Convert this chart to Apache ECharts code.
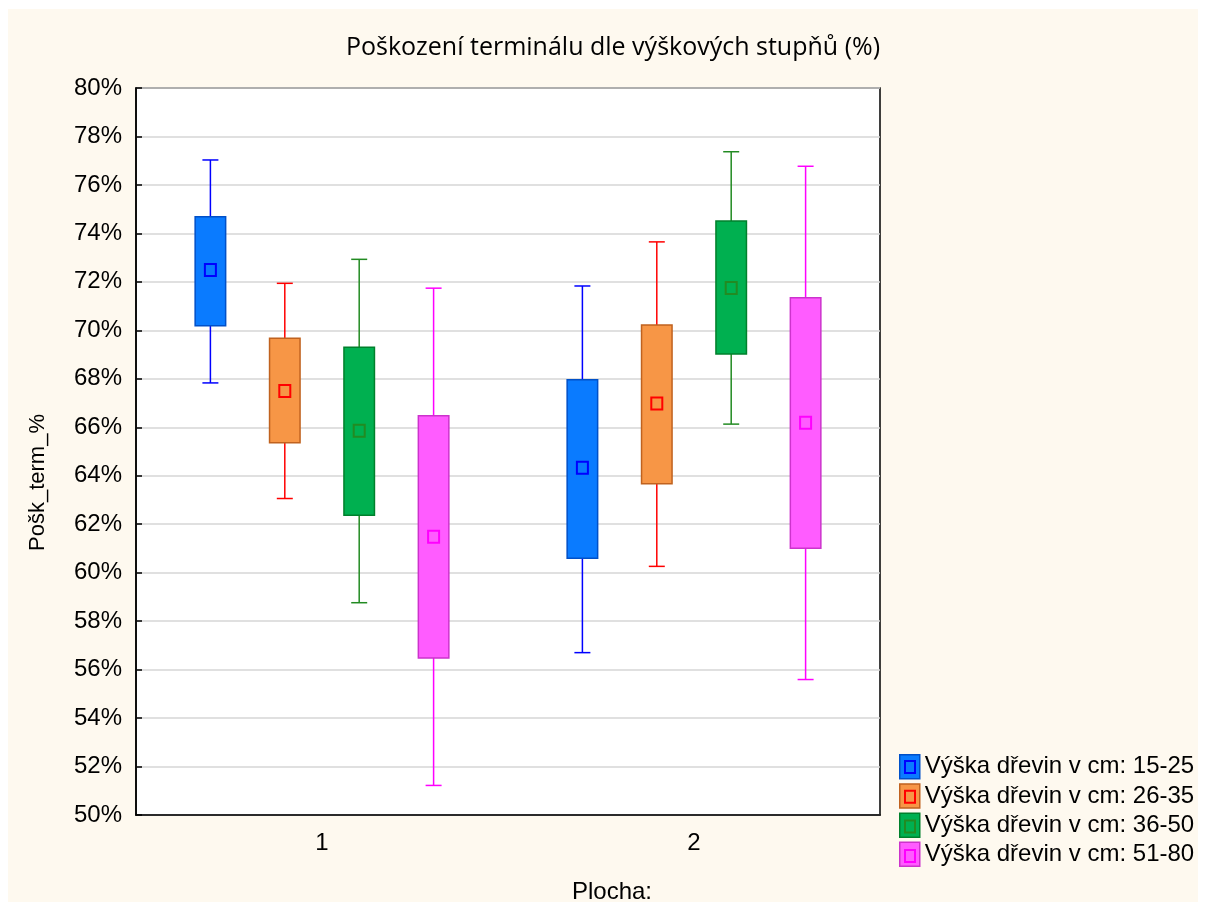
<!DOCTYPE html>
<html>
<head>
<meta charset="utf-8">
<title>Poškození terminálu dle výškových stupňů</title>
<script src="https://cdn.jsdelivr.net/npm/echarts@6/dist/echarts.min.js"></script>
<style>
  html, body { margin: 0; padding: 0; background: #ffffff; }
  #chart { position: absolute; left: 8px; top: 9px; width: 1190px; height: 893px; }
</style>
</head>
<body>
<div id="chart"></div>
<script>
// Plots (x axis categories)
const categories = ['1', '2'];

// Height classes (series names)
const seriesNames = [
  'Výška dřevin v cm: 15-25',
  'Výška dřevin v cm: 26-35',
  'Výška dřevin v cm: 36-50',
  'Výška dřevin v cm: 51-80'
];

// Per plot: [whisker low, box low, mean, box high, whisker high] in %
const h15_25 = [[67.83, 70.19, 72.49, 74.69, 77.03], [56.70, 60.59, 64.33, 67.96, 71.83]];
const h26_35 = [[63.06, 65.36, 67.50, 69.67, 71.94], [60.26, 63.67, 66.98, 70.22, 73.65]];
const h36_50 = [[58.76, 62.37, 65.86, 69.30, 72.93], [66.13, 69.02, 71.75, 74.51, 77.37]];
const h51_80 = [[51.22, 56.48, 61.48, 66.48, 71.74], [55.59, 61.01, 66.19, 71.34, 76.77]];
const seriesValues = [h15_25, h26_35, h36_50, h51_80];

// Y axis ticks (%)
const yTicks = { min: 50, max: 80, step: 2 };

// Colours: box fill, box outline, whisker / mean marker
const fillColors = ['#0A7BFF', '#F79646', '#00B050', '#FF5CFF'];
const edgeColors = ['#0050C8', '#C0621F', '#00802C', '#CC33CC'];
const lineColors = ['#0000FF', '#FF0000', '#228B22', '#FF00FF'];

const FONT = "'Liberation Sans', Arial, sans-serif";

function boxRenderer(slot) {
  return function (params, api) {
    const cat = api.value(0);
    const band = api.size([1, 0])[0];
    const x = api.coord([cat, api.value(3)])[0] + (slot - 1.5) * 0.2 * band;
    const yLow = api.coord([cat, api.value(1)])[1];
    const yQ1 = api.coord([cat, api.value(2)])[1];
    const yMean = api.coord([cat, api.value(3)])[1];
    const yQ3 = api.coord([cat, api.value(4)])[1];
    const yHigh = api.coord([cat, api.value(5)])[1];
    const bw = band * 0.082;
    const cw = band * 0.043;
    const lc = lineColors[slot];
    return {
      type: 'group',
      children: [
        { type: 'line', shape: { x1: x, y1: yHigh, x2: x, y2: yLow }, style: { stroke: lc, lineWidth: 1.5 } },
        { type: 'line', shape: { x1: x - cw / 2, y1: yHigh, x2: x + cw / 2, y2: yHigh }, style: { stroke: lc, lineWidth: 1.5 } },
        { type: 'line', shape: { x1: x - cw / 2, y1: yLow, x2: x + cw / 2, y2: yLow }, style: { stroke: lc, lineWidth: 1.5 } },
        { type: 'rect', shape: { x: x - bw / 2, y: yQ3, width: bw, height: yQ1 - yQ3 },
          style: { fill: fillColors[slot], stroke: edgeColors[slot], lineWidth: 1.5 } },
        { type: 'rect', shape: { x: x - 5.5, y: yMean - 6, width: 11, height: 12 },
          style: { fill: 'rgba(0,0,0,0)', stroke: lc, lineWidth: 2 } }
      ]
    };
  };
}

const series = seriesNames.map(function (name, i) {
  return {
    name: name,
    type: 'custom',
    renderItem: boxRenderer(i),
    itemStyle: { color: fillColors[i] },
    encode: { x: 0, y: [1, 2, 3, 4, 5] },
    data: seriesValues[i].map(function (v, c) { return [c].concat(v); })
  };
});

const chart = echarts.init(document.getElementById('chart'));
chart.setOption({
  backgroundColor: '#FEF9EF',
  animation: false,
  title: {
    text: 'Poškození terminálu dle výškových stupňů (%)',
    left: 600,
    top: 21,
    textAlign: 'center',
    textStyle: { fontFamily: "'Open Sans', Lato, sans-serif", fontWeight: 'normal', fontSize: 25, color: '#000' }
  },
  grid: {
    left: 128, top: 79, width: 744, height: 727,
    outerBoundsMode: 'none',
    show: true, backgroundColor: '#ffffff', borderColor: '#000', borderWidth: 1.5
  },
  legend: [
    {
      orient: 'vertical', left: 891, top: 745, padding: 0, itemGap: 3.7,
      itemWidth: 20, itemHeight: 24, selectedMode: false,
      textStyle: { fontFamily: FONT, fontSize: 24, lineHeight: 24, color: '#000' },
      data: seriesNames.map(function (n, i) {
        return { name: n, icon: 'rect',
          itemStyle: { color: fillColors[i], borderColor: edgeColors[i], borderWidth: 1.5 } };
      })
    },
    {
      orient: 'vertical', left: 896, top: 751, padding: 0, itemGap: 15.7,
      itemWidth: 10, itemHeight: 12, selectedMode: false,
      formatter: function () { return ''; },
      textStyle: { fontSize: 10, lineHeight: 12 },
      data: seriesNames.map(function (n, i) {
        return { name: n, icon: 'rect',
          itemStyle: { color: 'rgba(0,0,0,0)', borderColor: lineColors[i], borderWidth: 2 } };
      })
    }
  ],
  xAxis: {
    type: 'category',
    data: categories,
    name: 'Plocha:',
    nameLocation: 'middle',
    nameGap: 65,
    nameTextStyle: { fontFamily: FONT, fontSize: 24, color: '#000', padding: [0, 0, 0, 208] },
    axisLine: { lineStyle: { color: '#000', width: 1.5 } },
    axisTick: { inside: true, alignWithLabel: true, length: 6, lineStyle: { color: '#000', width: 1.5 } },
    axisLabel: { fontFamily: FONT, fontSize: 24, color: '#000', margin: 16 },
    splitLine: { show: false }
  },
  yAxis: {
    type: 'value',
    min: yTicks.min, max: yTicks.max, interval: yTicks.step,
    name: 'Pošk_term_%',
    nameLocation: 'middle',
    nameRotate: 90,
    nameGap: 87,
    nameTextStyle: { fontFamily: FONT, fontSize: 22, color: '#000', padding: [0, 62, 0, 0] },
    axisLine: { show: true, lineStyle: { color: '#000', width: 1.5 } },
    axisTick: { show: true, inside: true, length: 6, lineStyle: { color: '#000', width: 1.5 } },
    axisLabel: { fontFamily: FONT, fontSize: 24, color: '#000', margin: 14, formatter: '{value}%' },
    splitLine: { show: true, lineStyle: { color: '#D6D6D6', width: 1.5 } }
  },
  series: series
});
</script>
</body>
</html>
